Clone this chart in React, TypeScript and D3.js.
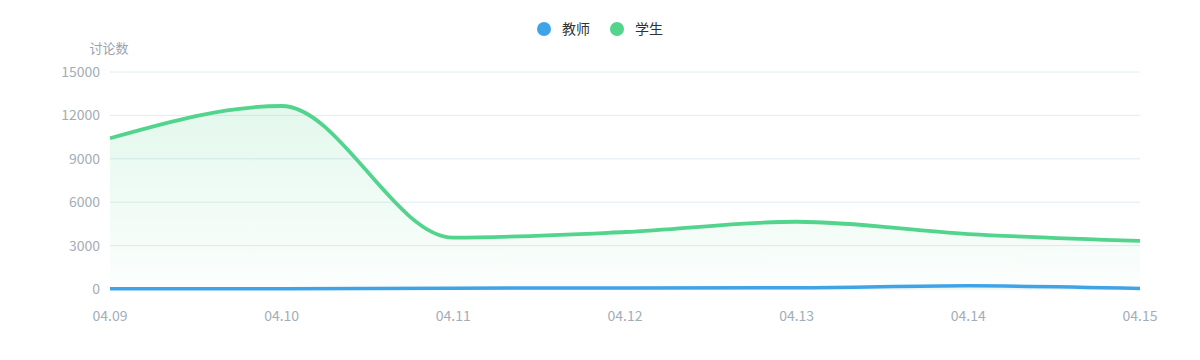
import React from "react";
import * as d3 from "d3";

const dates = ["04.09", "04.10", "04.11", "04.12", "04.13", "04.14", "04.15"];
const teacherValues = [10, 20, 60, 70, 80, 220, 40];
const studentValues = [10420, 12650, 3550, 3940, 4650, 3800, 3320];
const yTicks = [0, 3000, 6000, 9000, 12000, 15000];
const seriesNames = ["教师", "学生"];
const seriesColors = ["#3ea3e7", "#52d48d"];
const yAxisName = "讨论数";

const W = 1200;
const H = 360;
const margin = { left: 110, right: 60, top: 72, bottom: 71 };
const FONT = "'Noto Sans CJK SC', 'Noto Sans', sans-serif";

export default function App() {
  const x = d3
    .scalePoint<string>()
    .domain(dates)
    .range([margin.left, W - margin.right]);
  const y = d3
    .scaleLinear()
    .domain([0, 15000])
    .range([H - margin.bottom, margin.top]);

  const line = d3
    .line<number>()
    .x((_, i) => x(dates[i]) as number)
    .y((d) => y(d))
    .curve(d3.curveMonotoneX);
  const area = d3
    .area<number>()
    .x((_, i) => x(dates[i]) as number)
    .y0(y(0))
    .y1((d) => y(d))
    .curve(d3.curveMonotoneX);

  const legendItems = [
    { name: seriesNames[0], color: seriesColors[0], cx: 544 },
    { name: seriesNames[1], color: seriesColors[1], cx: 617 },
  ];

  return (
    <svg
      width={W}
      height={H}
      style={{ position: "absolute", left: 0, top: 0, background: "#fff" }}
      fontFamily={FONT}
    >
      <defs>
        <linearGradient id="greenArea" x1="0" y1="0" x2="0" y2="1">
          <stop offset="0%" stopColor={seriesColors[1]} stopOpacity={0.16} />
          <stop offset="100%" stopColor={seriesColors[1]} stopOpacity={0.02} />
        </linearGradient>
      </defs>

      {/* legend */}
      {legendItems.map((it) => (
        <g key={it.name}>
          <circle cx={it.cx} cy={29} r={7} fill={it.color} />
          <text x={it.cx + 18} y={34} fontSize={14} fill="#333">
            {it.name}
          </text>
        </g>
      ))}

      {/* y axis name */}
      <text
        x={margin.left - 1}
        y={53}
        fontSize={13}
        fill="#9aa3ad"
        textAnchor="middle"
      >
        {yAxisName}
      </text>

      {/* grid + y labels */}
      {yTicks.map((t) => (
        <g key={t}>
          <line
            x1={margin.left}
            x2={W - margin.right}
            y1={y(t)}
            y2={y(t)}
            stroke="#e1ecf3"
            strokeWidth={1}
          />
          <text
            x={margin.left - 10}
            y={y(t) + 5}
            fontSize={14}
            fill="#a3adb8"
            textAnchor="end"
          >
            {t}
          </text>
        </g>
      ))}

      {/* x labels */}
      {dates.map((d) => (
        <text
          key={d}
          x={x(d) as number}
          y={321}
          fontSize={14}
          fill="#a3adb8"
          textAnchor="middle"
        >
          {d}
        </text>
      ))}

      {/* areas */}
      <path d={area(studentValues) || ""} fill="url(#greenArea)" />

      {/* lines */}
      <path
        d={line(teacherValues) || ""}
        fill="none"
        stroke={seriesColors[0]}
        strokeWidth={3.5}
        strokeLinejoin="round"
      />
      <path
        d={line(studentValues) || ""}
        fill="none"
        stroke={seriesColors[1]}
        strokeWidth={3.8}
        strokeLinejoin="round"
      />
    </svg>
  );
}
